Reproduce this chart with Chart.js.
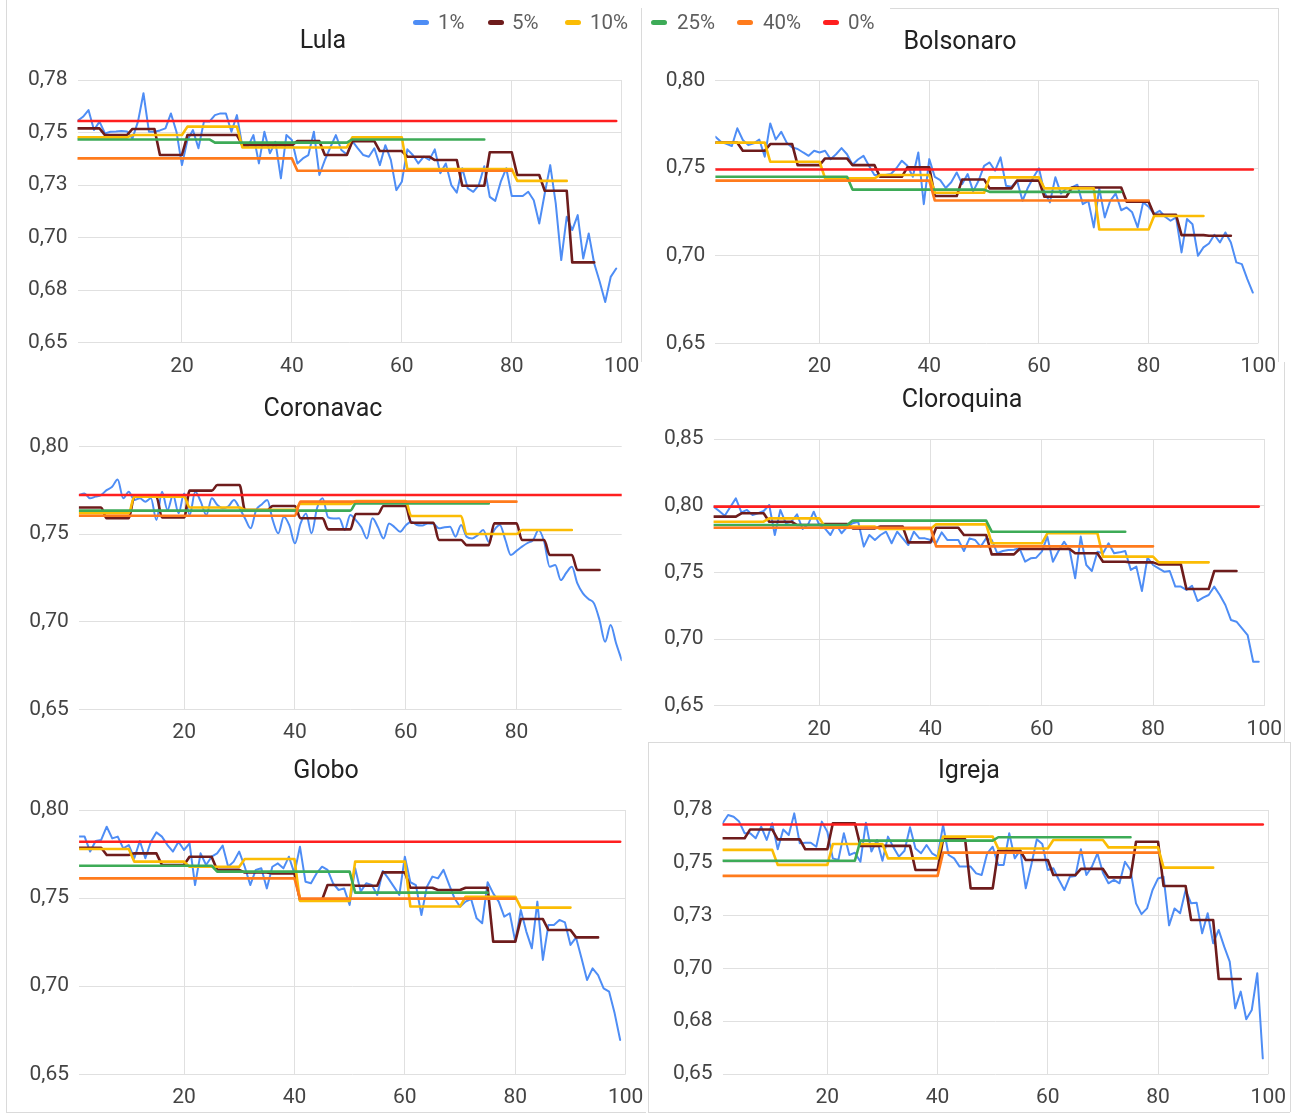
<!DOCTYPE html>
<html><head><meta charset="utf-8">
<script src="https://cdn.jsdelivr.net/npm/chart.js@4/dist/chart.umd.min.js"></script>
<style>
html,body{margin:0;padding:0;background:#fff;}
body{width:1298px;height:1115px;position:relative;overflow:hidden;font-family:Roboto,Arial,sans-serif;}
.fr{position:absolute;background:#dadada;}
.lg{position:absolute;top:10px;height:24px;line-height:24px;font:20.5px Roboto,Arial,sans-serif;color:#5f5f5f;white-space:nowrap;}
.mk{position:absolute;top:20px;width:16px;height:5px;border-radius:3px;}
</style></head><body>
<script>
// ---------- data ----------
const seriesLabels = ['1%','5%','10%','25%','40%','0%'];
const blockSizes = [5,10,25,40];
const xTicks = [20,40,60,80,100];
const yTicks775 = [0.65,0.675,0.70,0.725,0.75,0.775];
const yLabels775 = ['0,65','0,68','0,70','0,73','0,75','0,78'];
const yTicks80 = [0.65,0.70,0.75,0.80];
const yLabels80 = ['0,65','0,70','0,75','0,80'];
const yTicks85 = [0.65,0.70,0.75,0.80,0.85];
const yLabels85 = ['0,65','0,70','0,75','0,80','0,85'];
const titles = ['Lula','Bolsonaro','Coronavac','Cloroquina','Globo','Igreja'];

const lula1 = [
0.7555,0.7575,0.7607,0.7512,0.7552,0.7496,0.7504,0.7505,0.7507,0.7505,
0.7472,0.7552,0.7687,0.7504,0.7504,0.7510,0.7520,0.7591,0.7504,0.7345,
0.7464,0.7512,0.7425,0.7552,0.7552,0.7583,0.7591,0.7591,0.7504,0.7583,
0.7433,0.7433,0.7488,0.7353,0.7504,0.7401,0.7456,0.7282,0.7488,0.7464,
0.7353,0.7377,0.7393,0.7504,0.7298,0.7369,0.7430,0.7488,0.7417,0.7395,
0.7459,0.7425,0.7393,0.7385,0.7425,0.7345,0.7440,0.7370,0.7226,0.7266,
0.7420,0.7393,0.7353,0.7385,0.7370,0.7420,0.7306,0.7353,0.7250,0.7214,
0.7330,0.7234,0.7218,0.7250,0.7340,0.7194,0.7175,0.7266,0.7330,0.7198,
0.7198,0.7198,0.7218,0.7178,0.7067,0.7210,0.7345,0.7163,0.6893,0.7099,
0.7036,0.7107,0.6901,0.7020,0.6877,0.6790,0.6694,0.6813,0.6853];
const lula5 = [0.7520,0.7488,0.7517,0.7393,0.7488,0.7488,0.7440,0.7440,0.7459,0.7393,0.7459,0.7412,0.7385,0.7369,0.7247,0.7406,0.7298,0.7223,0.6882];
const lula10 = [0.7477,0.7488,0.7528,0.7429,0.7429,0.7477,0.7326,0.7326,0.7270];
const lula25 = [0.7467,0.7452,0.7467];
const lula40 = [0.7377,0.7318];
const lula0 = 0.7555;

const bolso1 = [
0.7680,0.7651,0.7640,0.7627,0.7728,0.7661,0.7632,0.7642,0.7664,0.7566,
0.7756,0.7664,0.7708,0.7646,0.7619,0.7610,0.7590,0.7571,0.7600,0.7590,
0.7600,0.7552,0.7580,0.7615,0.7580,0.7520,0.7550,0.7571,0.7514,0.7461,
0.7461,0.7461,0.7467,0.7500,0.7543,0.7514,0.7451,0.7590,0.7295,0.7552,
0.7451,0.7432,0.7387,0.7420,0.7476,0.7410,0.7467,0.7368,0.7430,0.7514,
0.7533,0.7486,0.7562,0.7400,0.7394,0.7430,0.7314,0.7390,0.7448,0.7500,
0.7362,0.7305,0.7448,0.7356,0.7385,0.7390,0.7406,0.7295,0.7314,0.7162,
0.7385,0.7219,0.7314,0.7356,0.7260,0.7276,0.7248,0.7162,0.7305,0.7280,
0.7238,0.7257,0.7223,0.7200,0.7219,0.7019,0.7210,0.7180,0.7000,0.7048,
0.7070,0.7120,0.7076,0.7133,0.7076,0.6962,0.6952,0.6867,0.6790];
const bolso5 = [0.7646,0.7600,0.7638,0.7518,0.7556,0.7518,0.7451,0.7505,0.7341,0.7436,0.7385,0.7429,0.7337,0.7390,0.7390,0.7309,0.7234,0.7118,0.7114];
const bolso10 = [0.7646,0.7537,0.7442,0.7461,0.7360,0.7448,0.7385,0.7150,0.7227];
const bolso25 = [0.7451,0.7378,0.7365];
const bolso40 = [0.7429,0.7316];
const bolso0 = 0.7493;

const corona1 = [
0.7724,0.7733,0.7705,0.7715,0.7724,0.7752,0.7771,0.7813,0.7705,0.7743,
0.7695,0.7705,0.7686,0.7705,0.7581,0.7743,0.7638,0.7724,0.7620,0.7733,
0.7610,0.7743,0.7686,0.7610,0.7705,0.7667,0.7648,0.7660,0.7695,0.7648,
0.7590,0.7534,0.7638,0.7670,0.7695,0.7580,0.7505,0.7600,0.7550,0.7448,
0.7560,0.7619,0.7505,0.7650,0.7705,0.7596,0.7590,0.7591,0.7524,0.7610,
0.7581,0.7540,0.7476,0.7591,0.7540,0.7476,0.7562,0.7540,0.7514,0.7550,
0.7572,0.7553,0.7550,0.7562,0.7560,0.7534,0.7540,0.7543,0.7486,0.7553,
0.7486,0.7476,0.7495,0.7524,0.7457,0.7524,0.7553,0.7467,0.7381,0.7405,
0.7429,0.7450,0.7467,0.7524,0.7457,0.7314,0.7324,0.7238,0.7280,0.7314,
0.7219,0.7162,0.7130,0.7105,0.7010,0.6886,0.6981,0.6876,0.6781];
const corona5 = [0.7653,0.7591,0.7714,0.7596,0.7749,0.7781,0.7638,0.7661,0.7591,0.7528,0.7616,0.7661,0.7566,0.7467,0.7438,0.7562,0.7467,0.7381,0.7296];
const corona10 = [0.7620,0.7714,0.7653,0.7640,0.7673,0.7690,0.7604,0.7501,0.7524];
const corona25 = [0.7635,0.7635,0.7676];
const corona40 = [0.7606,0.7686];
const corona0 = 0.7724;

const cloro1 = [
0.7993,0.7960,0.7925,0.7990,0.8055,0.7950,0.7968,0.7930,0.7943,0.7960,
0.8005,0.7780,0.7968,0.7868,0.7880,0.7935,0.7825,0.7860,0.7955,0.7855,
0.7830,0.7780,0.7860,0.7793,0.7840,0.7868,0.7880,0.7693,0.7780,0.7743,
0.7780,0.7805,0.7718,0.7805,0.7755,0.7705,0.7805,0.7755,0.7755,0.7743,
0.7718,0.7800,0.7743,0.7743,0.7743,0.7660,0.7755,0.7743,0.7693,0.7755,
0.7743,0.7643,0.7660,0.7668,0.7670,0.7680,0.7580,0.7605,0.7610,0.7655,
0.7768,0.7580,0.7660,0.7730,0.7668,0.7455,0.7768,0.7555,0.7510,0.7655,
0.7643,0.7718,0.7643,0.7650,0.7660,0.7518,0.7543,0.7360,0.7610,0.7555,
0.7530,0.7505,0.7510,0.7393,0.7393,0.7368,0.7400,0.7285,0.7310,0.7330,
0.7393,0.7330,0.7255,0.7143,0.7130,0.7080,0.7030,0.6830,0.6830];
const cloro5 = [0.7918,0.7943,0.7880,0.7855,0.7863,0.7830,0.7843,0.7725,0.7835,0.7780,0.7635,0.7675,0.7675,0.7643,0.7580,0.7575,0.7560,0.7375,0.7510];
const cloro10 = [0.7880,0.7905,0.7843,0.7825,0.7860,0.7718,0.7793,0.7618,0.7575];
const cloro25 = [0.7855,0.7888,0.7805];
const cloro40 = [0.7835,0.7695];
const cloro0 = 0.7993;

const globo1 = [
0.7849,0.7849,0.7764,0.7824,0.7830,0.7905,0.7839,0.7849,0.7782,0.7801,
0.7726,0.7824,0.7726,0.7820,0.7873,0.7849,0.7801,0.7764,0.7820,0.7773,
0.7811,0.7574,0.7754,0.7688,0.7735,0.7754,0.7798,0.7678,0.7707,0.7764,
0.7678,0.7574,0.7660,0.7669,0.7555,0.7678,0.7697,0.7669,0.7735,0.7640,
0.7792,0.7593,0.7584,0.7640,0.7678,0.7660,0.7584,0.7546,0.7555,0.7461,
0.7669,0.7537,0.7584,0.7575,0.7518,0.7654,0.7612,0.7565,0.7518,0.7735,
0.7590,0.7574,0.7404,0.7565,0.7622,0.7612,0.7660,0.7578,0.7499,0.7451,
0.7480,0.7495,0.7385,0.7357,0.7590,0.7527,0.7480,0.7395,0.7414,0.7253,
0.7432,0.7310,0.7215,0.7480,0.7149,0.7348,0.7348,0.7376,0.7362,0.7234,
0.7276,0.7158,0.7035,0.7101,0.7063,0.6988,0.6969,0.6846,0.6695];
const globo5 = [0.7786,0.7745,0.7754,0.7688,0.7735,0.7660,0.7645,0.7640,0.7489,0.7574,0.7570,0.7646,0.7559,0.7546,0.7559,0.7253,0.7381,0.7319,0.7277];
const globo10 = [0.7779,0.7707,0.7678,0.7722,0.7484,0.7707,0.7452,0.7508,0.7446];
const globo25 = [0.7684,0.7650,0.7531];
const globo40 = [0.7612,0.7497];
const globo0 = 0.7820;

const igreja1 = [
0.7687,0.7726,0.7718,0.7695,0.7640,0.7640,0.7616,0.7671,0.7608,0.7687,
0.7564,0.7658,0.7632,0.7734,0.7592,0.7595,0.7595,0.7576,0.7695,0.7647,
0.7521,0.7513,0.7640,0.7537,0.7548,0.7505,0.7690,0.7553,0.7608,0.7510,
0.7624,0.7573,0.7529,0.7557,0.7668,0.7568,0.7545,0.7584,0.7545,0.7529,
0.7679,0.7537,0.7521,0.7482,0.7482,0.7482,0.7450,0.7442,0.7545,0.7576,
0.7490,0.7490,0.7640,0.7521,0.7560,0.7379,0.7490,0.7611,0.7589,0.7466,
0.7474,0.7420,0.7371,0.7434,0.7437,0.7564,0.7442,0.7482,0.7545,0.7453,
0.7403,0.7419,0.7403,0.7505,0.7466,0.7308,0.7257,0.7284,0.7371,0.7426,
0.7434,0.7204,0.7284,0.7261,0.7371,0.7308,0.7311,0.7166,0.7261,0.7119,
0.7182,0.7103,0.7032,0.6811,0.6890,0.6759,0.6803,0.6977,0.6574];
const igreja5 = [0.7616,0.7658,0.7611,0.7564,0.7687,0.7580,0.7580,0.7466,0.7611,0.7379,0.7557,0.7513,0.7442,0.7471,0.7431,0.7600,0.7390,0.7229,0.6950];
const igreja10 = [0.7561,0.7490,0.7589,0.7521,0.7624,0.7568,0.7608,0.7573,0.7477];
const igreja25 = [0.7510,0.7605,0.7621];
const igreja40 = [0.7438,0.7548];
const igreja0 = 0.7681;

// ---------- styles & layout ----------
const COLORS = ['#4e8df5','#6e1c1c','#fbbc04','#3dab57','#ff7b1c','#ff1f1f'];
const WIDTHS = [2, 2.6, 2.6, 2.6, 2.6, 2.6];
const TITLE_SIZE = 25, TITLE_LH = 30, TICK_SIZE = 21;
const LAYOUT = {
  Lula:       {cl:5,   cr:641,  titleY:40,  top:80,    bottom:342.7,  left:77.5,  right:621.7},
  Bolsonaro:  {cl:642, cr:1278, titleY:41,  top:80.7,  bottom:343.3,  left:715.4, right:1258.3},
  Coronavac:  {cl:5,   cr:641,  titleY:408, top:446.7, bottom:709.3,  left:78.9,  right:621.7},
  Cloroquina: {cl:642, cr:1282, titleY:399, top:439,   bottom:705.7,  left:713.6, right:1264.3},
  Globo:      {cl:8,   cr:644,  titleY:770, top:810,   bottom:1074.3, left:79.1,  right:625.7},
  Igreja:     {cl:652, cr:1286, titleY:770, top:810,   bottom:1074,   left:722.6, right:1268.3}
};

Chart.defaults.font.family = 'Roboto, Arial, sans-serif';

function rawPoints(vals){ return vals.map((v,i)=>({x:i+1,y:v})); }
function stepPoints(vals,size){ const p=[]; vals.forEach((v,k)=>{p.push({x:k*size+1,y:v});p.push({x:(k+1)*size,y:v});}); return p; }
function flatPoints(v,n){ return [{x:1,y:v},{x:n,y:v}]; }

function makePanel(p){
  const L = LAYOUT[p.title];
  const ty = L.titleY + 2;
  const T = Math.round(ty - TITLE_LH/2 - 4);
  const TP = ty - TITLE_LH/2 - T;
  const TB = L.top - (T + TP + TITLE_LH);
  const bottomEdge = Math.round(L.bottom + 42);
  const W = L.cr - L.cl, H = bottomEdge - T;
  const RP = L.cr - L.right;
  const cv = document.createElement('canvas');
  cv.width = W; cv.height = H;
  cv.style.cssText = 'position:absolute;left:'+L.cl+'px;top:'+T+'px;width:'+W+'px;height:'+H+'px;';
  document.body.appendChild(cv);
  const n = p.s1.length;
  const series = [rawPoints(p.s1), stepPoints(p.s5,blockSizes[0]), stepPoints(p.s10,blockSizes[1]),
                  stepPoints(p.s25,blockSizes[2]), stepPoints(p.s40,blockSizes[3]), flatPoints(p.s0,n)];
  new Chart(cv, {
    type:'line',
    data:{datasets: series.map((d,i)=>({
      label: seriesLabels[i], data:d, borderColor:COLORS[i], backgroundColor:COLORS[i],
      borderWidth:WIDTHS[i], pointRadius:0, pointHoverRadius:0, fill:false,
      tension: p.smooth ? 0.4 : 0, cubicInterpolationMode: p.smooth ? 'monotone' : 'default',
      borderJoinStyle:'round', borderCapStyle:'round', order: 6 - i
    }))},
    options:{
      responsive:false, animation:false, devicePixelRatio:1, events:[],
      layout:{padding:0},
      plugins:{
        legend:{display:false}, tooltip:{enabled:false},
        title:{display:true, text:p.title, color:'#222', font:{size:TITLE_SIZE, weight:'normal', lineHeight:TITLE_LH/TITLE_SIZE}, padding:{top:TP, bottom:TB}}
      },
      scales:{
        x:{type:'linear', min:1, max:p.xmax,
           afterBuildTicks:s=>{ s.ticks = xTicks.filter(v=>v<=p.xmax).map(v=>({value:v})); },
           afterFit:s=>{ s.height = bottomEdge - L.bottom; s.paddingLeft = 0; s.paddingRight = RP; },
           grid:{color:'#e0e0e0', drawTicks:false}, border:{display:false},
           ticks:{padding:11, color:'#444', font:{size:TICK_SIZE}, maxRotation:0, autoSkip:false}},
        y:{type:'linear', min:p.yTicks[0], max:p.yTicks[p.yTicks.length-1],
           afterBuildTicks:s=>{ s.ticks = p.yTicks.map(v=>({value:v})); },
           afterFit:s=>{ s.width = L.left - L.cl; },
           grid:{color:'#e0e0e0', drawTicks:false}, border:{display:false},
           ticks:{padding:10, color:'#444', font:{size:TICK_SIZE}, callback:(v,i)=>p.yLabels[i]}}
      }
    }
  });
}

// frames of the stitched screenshots
[[6,0,1,1112],[6,1112,640,1],[641,8,1,354],[890,8,388,1],[1278,8,1,354],
 [1284,362,1,380],[648,742,1,370],[648,742,642,1],[1290,742,1,370],[648,1112,642,1]].forEach(f=>{
  const d=document.createElement('div'); d.className='fr';
  d.style.cssText='left:'+f[0]+'px;top:'+f[1]+'px;width:'+f[2]+'px;height:'+f[3]+'px;';
  document.body.appendChild(d);
});

makePanel({title:titles[0], s1:lula1,   s5:lula5,   s10:lula10,   s25:lula25,   s40:lula40,   s0:lula0,   xmax:100, yTicks:yTicks775, yLabels:yLabels775});
makePanel({title:titles[1], s1:bolso1,  s5:bolso5,  s10:bolso10,  s25:bolso25,  s40:bolso40,  s0:bolso0,  xmax:100, yTicks:yTicks80,  yLabels:yLabels80});
makePanel({title:titles[2], s1:corona1, s5:corona5, s10:corona10, s25:corona25, s40:corona40, s0:corona0, xmax:99,  yTicks:yTicks80,  yLabels:yLabels80, smooth:true});
makePanel({title:titles[3], s1:cloro1,  s5:cloro5,  s10:cloro10,  s25:cloro25,  s40:cloro40,  s0:cloro0,  xmax:100, yTicks:yTicks85,  yLabels:yLabels85});
makePanel({title:titles[4], s1:globo1,  s5:globo5,  s10:globo10,  s25:globo25,  s40:globo40,  s0:globo0,  xmax:100, yTicks:yTicks80,  yLabels:yLabels80});
makePanel({title:titles[5], s1:igreja1, s5:igreja5, s10:igreja10, s25:igreja25, s40:igreja40, s0:igreja0, xmax:100, yTicks:yTicks775, yLabels:yLabels775});

// shared legend
const LEG_POS = [[413,438],[488,512],[565,590],[651,677],[737,763],[823,848]];
seriesLabels.forEach((t,i)=>{
  const m=document.createElement('div'); m.className='mk';
  m.style.left=LEG_POS[i][0]+'px'; m.style.background=COLORS[i]; document.body.appendChild(m);
  const s=document.createElement('div'); s.className='lg';
  s.style.left=LEG_POS[i][1]+'px'; s.textContent=t; document.body.appendChild(s);
});
</script>
</body></html>
